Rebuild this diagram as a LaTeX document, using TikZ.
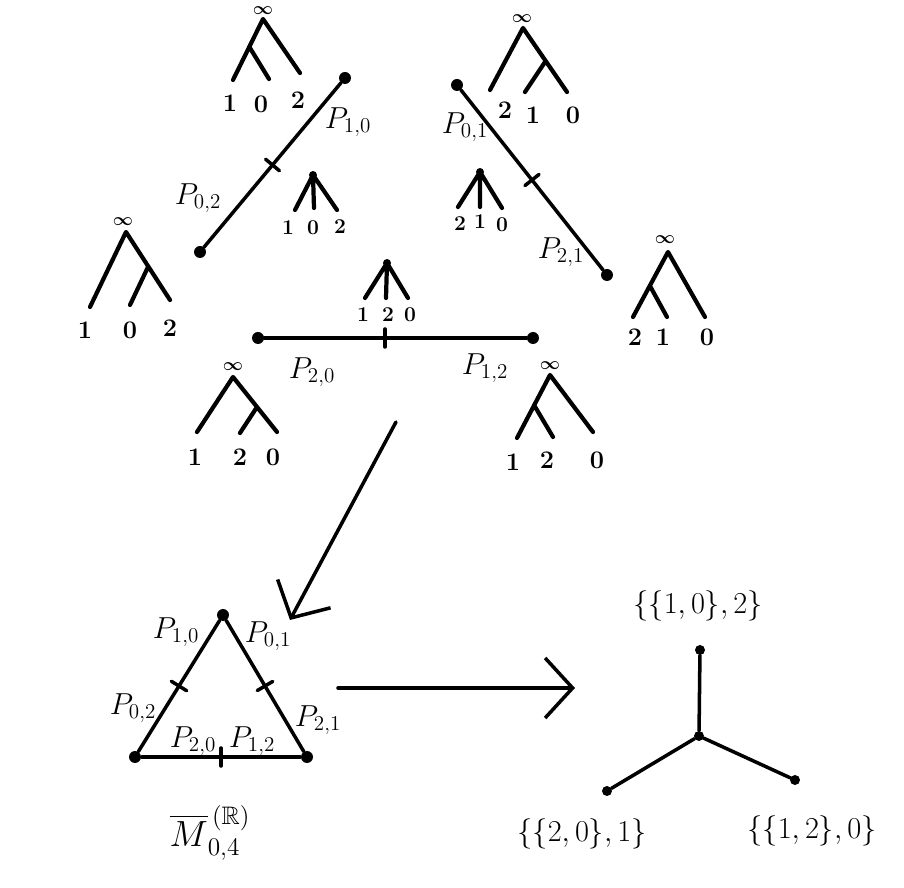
\documentclass[tikz,border=0pt]{standalone}
\usepackage{amssymb}
\usetikzlibrary{arrows.meta}

\begin{document}
\begin{tikzpicture}[x=0.02cm,y=-0.02cm,line cap=round,line join=round,tree/.style={line width=2.4pt},seg/.style={line width=2pt},dot/.style={circle,fill,inner sep=0pt,minimum size=2.4mm},apex/.style={circle,fill,inner sep=0pt,minimum size=1.6mm},tick/.style={sloped,draw,line width=2pt,inner sep=0pt,minimum width=0pt,minimum height=3.6mm},leaf/.style={font=\Large\bfseries},sleaf/.style={font=\large\bfseries},inf/.style={font=\normalsize\boldmath,inner sep=0pt},lab/.style={font=\LARGE},arrow/.style={-{Straight Barb[length=5.5mm,width=12mm,line width=2pt]},line width=2pt}]
\useasboundingbox (0,0) rectangle (904,888);
% trees on the upper left edge
\node[inf] (i1) at (263,11) {$\infty$};
\draw[tree] (233,80) -- (263,19) -- (300,73) (250,48) -- (269,79);
\node[leaf] (l1a) at (230,103) {1};
\node[leaf] (l1b) at (261,104) {0};
\node[leaf] (l1c) at (298,100) {2};
\node[dot] (a1) at (200,252) {};
\node[dot] (a2) at (345,78) {};
\draw[seg] (a1) -- node[tick]{} (a2);
\node[lab] (pa1) at (348,122) {$P_{1,0}$};
\node[lab] (pa2) at (198,198) {$P_{0,2}$};
\node[apex] (s1) at (313,175) {};
\draw[tree] (295,210) -- (s1.center) -- (337,210) (s1.center) -- (314,208);
\node[sleaf] (s1a) at (288,228) {1};
\node[sleaf] (s1b) at (313,228) {0};
\node[sleaf] (s1c) at (340,227) {2};
% upper right edge
\node[inf] (i2) at (522,19) {$\infty$};
\draw[tree] (490,90) -- (523,28) -- (567,92) (545,62) -- (525,92);
\node[leaf] (l2a) at (505,110) {2};
\node[leaf] (l2b) at (533,115) {1};
\node[leaf] (l2c) at (573,115) {0};
\node[dot] (b1) at (457,85) {};
\node[dot] (b2) at (607,275) {};
\draw[seg] (b1) -- node[tick]{} (b2);
\node[lab] (pb1) at (465,127) {$P_{0,1}$};
\node[lab] (pb2) at (561,252) {$P_{2,1}$};
\node[apex] (s2) at (480,172) {};
\draw[tree] (458,207) -- (s2.center) -- (502,208) (s2.center) -- (480,207);
\node[sleaf] (s2a) at (460,224) {2};
\node[sleaf] (s2b) at (480,222) {1};
\node[sleaf] (s2c) at (502,225) {0};
% outer trees
\node[inf] (i3) at (123,222) {$\infty$};
\draw[tree] (90,307) -- (126,232) -- (170,300) (148,267) -- (130,305);
\node[leaf] (l3a) at (85,330) {1};
\node[leaf] (l3b) at (130,330) {0};
\node[leaf] (l3c) at (170,328) {2};
\node[inf] (i4) at (665,240) {$\infty$};
\draw[tree] (633,317) -- (668,252) -- (705,317) (650,286) -- (667,317);
\node[leaf] (l4a) at (635,337) {2};
\node[leaf] (l4b) at (663,337) {1};
\node[leaf] (l4c) at (707,337) {0};
% lower edge
\node[dot] (c1) at (258,338) {};
\node[dot] (c2) at (533,338) {};
\draw[seg] (c1) -- node[tick,pos=0.46]{} (c2);
\node[apex] (s3) at (387,263) {};
\draw[tree] (365,298) -- (s3.center) -- (408,298) (s3.center) -- (386,298);
\node[sleaf] (s3a) at (363,315) {1};
\node[sleaf] (s3b) at (388,315) {2};
\node[sleaf] (s3c) at (410,315) {0};
\node[lab] (pc1) at (312,372) {$P_{2,0}$};
\node[lab] (pc2) at (485,368) {$P_{1,2}$};
\node[inf] (i5) at (233,367) {$\infty$};
\draw[tree] (197,432) -- (233,377) -- (277,432) (257,407) -- (240,433);
\node[leaf] (l5a) at (195,457) {1};
\node[leaf] (l5b) at (240,457) {2};
\node[leaf] (l5c) at (273,457) {0};
\node[inf] (i6) at (550,366) {$\infty$};
\draw[tree] (517,438) -- (550,375) -- (593,432) (534,405) -- (553,437);
\node[leaf] (l6a) at (513,462) {1};
\node[leaf] (l6b) at (547,460) {2};
\node[leaf] (l6c) at (597,460) {0};
% down to the triangle
\coordinate (d0) at (396,422);
\coordinate (d1) at (290,620);
\draw[arrow] (d0) -- (d1);
\node[dot] (t0) at (223,615) {};
\node[dot] (t1) at (135,757) {};
\node[dot] (t2) at (307,757) {};
\draw[seg] (t1) -- node[tick]{} (t0) -- node[tick]{} (t2) -- node[tick]{} (t1);
\node[lab] (q1) at (176,632) {$P_{1,0}$};
\node[lab] (q2) at (268,636) {$P_{0,1}$};
\node[lab] (q3) at (133,708) {$P_{0,2}$};
\node[lab] (q4) at (318,720) {$P_{2,1}$};
\node[lab] (q5) at (193,741) {$P_{2,0}$};
\node[lab] (q6) at (252,741) {$P_{1,2}$};
\node[font=\huge] (mlab) at (210,833) {$\overline{M}_{0,4}^{\,(\mathbb{R})}$};
% to the tree
\coordinate (e0) at (338,688);
\coordinate (e1) at (575,688);
\draw[arrow] (e0) -- (e1);
\node[dot,minimum size=2mm] (g0) at (700,650) {};
\node[dot,minimum size=2mm] (gc) at (699,736) {};
\node[dot,minimum size=2mm] (g1) at (607,791) {};
\node[dot,minimum size=2mm] (g2) at (795,780) {};
\draw[seg] (g0) -- (gc) -- (g1) (gc) -- (g2);
\node[lab] (v0) at (698,606) {$\{\{1,0\},2\}$};
\node[lab] (v1) at (582,834) {$\{\{2,0\},1\}$};
\node[lab] (v2) at (812,831) {$\{\{1,2\},0\}$};
\end{tikzpicture}
\end{document}
